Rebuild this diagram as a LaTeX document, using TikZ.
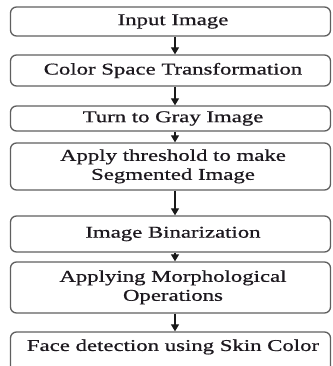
\documentclass[tikz,border=0pt]{standalone}
\usepackage{fontspec}
\setmainfont{Liberation Serif}[BoldFont={Liberation Serif}, BoldFeatures={FakeBold=0.6}]
\usetikzlibrary{arrows.meta}
\definecolor{boxgray}{RGB}{95,95,95}
\definecolor{txtc}{RGB}{28,24,30}
\definecolor{arrowc}{RGB}{25,25,25}
% widen the lettering horizontally
\newcommand\stretchtxt[1]{\scalebox{1.38}[1]{#1}}
\begin{document}
\begin{tikzpicture}[x=1pt,y=1pt,
  box/.style={draw=boxgray, line width=1.3pt, rounded corners=6pt,
              minimum width=320pt, inner sep=0pt,
              font=\fontsize{16.5}{19}\selectfont\bfseries, text=txtc},
  lbl/.style={font=\fontsize{16.5}{19}\selectfont\bfseries, text=txtc, inner sep=0pt},
  flow/.style={draw=arrowc, line width=1.2pt,
               -{Triangle[length=7pt,width=8pt]}}]
\useasboundingbox (0,0) rectangle (332,-366);
\clip (0,0) rectangle (332,-366);

\node[box, minimum height=29pt] (b1) at (170.5,-21.5)
  {\hspace*{5pt}\stretchtxt{Input Image}};
\node[box, minimum height=31pt] (b2) at (170.5,-70.5)
  {\hspace*{5pt}\stretchtxt{Color Space Transformation}};
\node[box, minimum height=25pt] (b3) at (170.5,-118.5)
  {\hspace*{5pt}\stretchtxt{Turn to Gray Image}};
\node[box, minimum height=47pt] (b4) at (170.5,-166.5)
  {\hspace*{5pt}\stretchtxt{\begin{tabular}{@{}c@{}}Apply threshold to make\\Segmented Image\end{tabular}}};
\node[box, minimum height=36pt] (b5) at (170.5,-234)
  {\hspace*{5pt}\stretchtxt{Image Binarization}};
\node[box, minimum height=51pt] (b6) at (170.5,-287.5)
  {\hspace*{5pt}\stretchtxt{\begin{tabular}{@{}c@{}}Applying Morphological\\Operations\end{tabular}}};
\node[box, minimum height=44pt] (b7) at (170.5,-354) {};
\node[lbl] (t7) at (173,-347) {\stretchtxt{Face detection using Skin Color}};

\foreach \a/\b in {b1/b2, b2/b3, b3/b4, b4/b5, b5/b6, b6/b7}
  \draw[flow] ([xshift=4.5pt]\a.south) -- ([xshift=4.5pt]\b.north);
\end{tikzpicture}
\end{document}
